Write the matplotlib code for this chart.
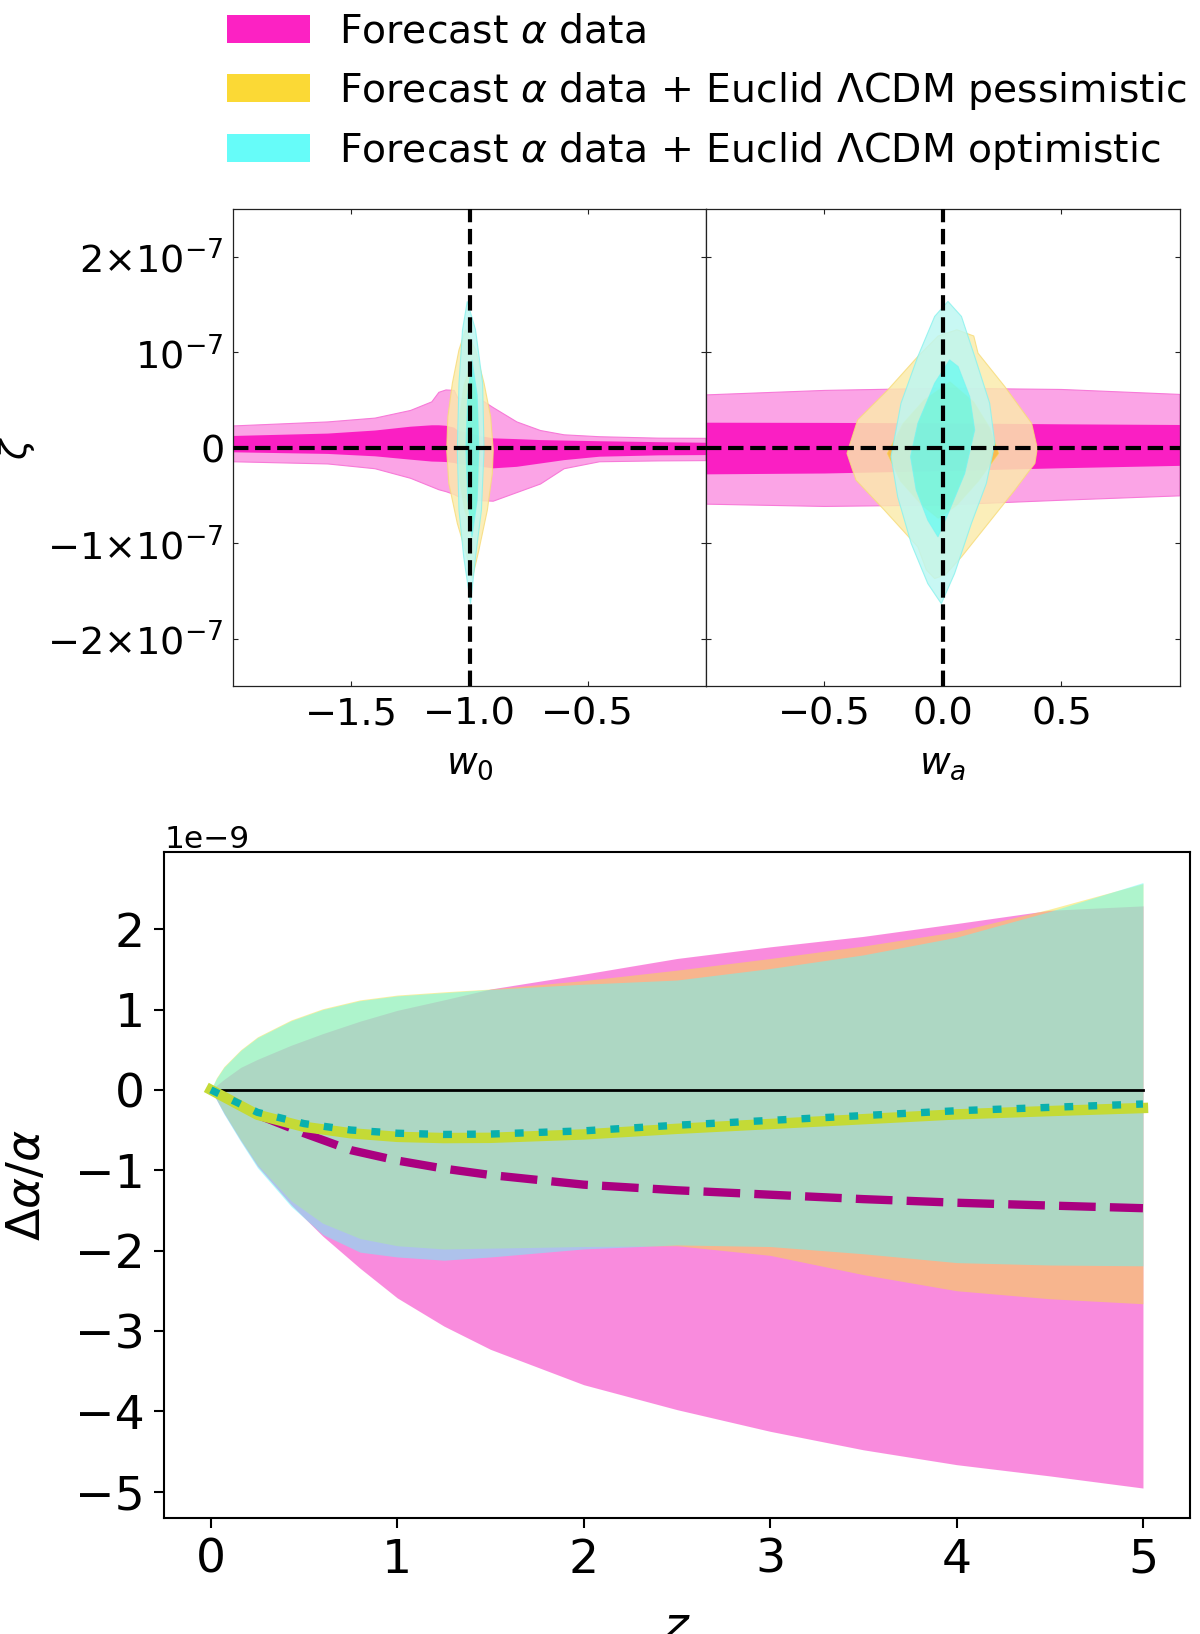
import numpy as np
import matplotlib
matplotlib.use("Agg")
from matplotlib import pyplot as plt
from matplotlib.patches import Patch, PathPatch
from matplotlib.path import Path

# ---------------- top panels: zeta in units of 1e-7 ----------------
# Forecast alpha data (pink), w0 panel, upper/lower edges on a w0 grid
W0_GRID = [-2.0, -1.6, -1.4, -1.25, -1.16, -1.13, -1.1, -1.065, -1.05, -0.95,
           -0.9, -0.8, -0.7, -0.6, -0.45, -0.2, 0.0]
PINK95_W0_UP = [0.228, 0.27, 0.31, 0.39, 0.48, 0.58, 0.605, 0.60, 0.52, 0.50,
                0.42, 0.27, 0.18, 0.135, 0.115, 0.10, 0.098]
PINK95_W0_LO = [-0.147, -0.17, -0.22, -0.32, -0.41, -0.44, -0.46, -0.49, -0.51, -0.555,
                -0.56, -0.47, -0.38, -0.22, -0.147, -0.138, -0.135]
PINK68_W0_UP = [0.123, 0.148, 0.18, 0.22, 0.235, 0.235, 0.23, 0.21, 0.18, 0.12,
                0.098, 0.09, 0.08, 0.075, 0.068, 0.058, 0.052]
PINK68_W0_LO = [-0.048, -0.065, -0.09, -0.125, -0.145, -0.147, -0.15, -0.16, -0.17, -0.20,
                -0.216, -0.20, -0.165, -0.13, -0.094, -0.08, -0.077]

# pink, wa panel
WA_GRID = [-1.0, -0.5, 0.0, 0.5, 1.0]
PINK95_WA_UP = [0.553, 0.60, 0.623, 0.61, 0.558]
PINK95_WA_LO = [-0.591, -0.615, -0.60, -0.55, -0.504]
PINK68_WA_UP = [0.262, 0.26, 0.255, 0.245, 0.238]
PINK68_WA_LO = [-0.279, -0.27, -0.245, -0.215, -0.19]

# pessimistic (yellow) contours, w0 panel
YEL95_W0_X = [-1.017, -1.045, -1.073, -1.092, -1.097, -1.088, -1.052, -1.010, -0.989,
              -0.961, -0.925, -0.904, -0.900, -0.911, -0.939, -0.975]
YEL95_W0_Y = [1.235, 1.025, 0.676, 0.325, -0.024, -0.374, -0.793, -1.144, -1.370,
              -1.074, -0.654, -0.269, -0.024, 0.325, 0.676, 1.025]
YEL68_W0_X = [-1.003, -1.025, -1.042, -1.05, -1.042, -1.022, -0.995, -0.975, -0.96, -0.955, -0.962, -0.98]
YEL68_W0_Y = [0.82, 0.65, 0.35, 0.0, -0.35, -0.65, -0.85, -0.65, -0.35, 0.0, 0.35, 0.65]
# optimistic (cyan) contours, w0 panel
CYA95_W0_X = [-1.010, -1.030, -1.045, -1.052, -1.045, -1.025, -0.996, -0.975, -0.950, -0.939, -0.945, -0.975]
CYA95_W0_Y = [1.532, 1.235, 0.676, -0.024, -0.654, -1.144, -1.633, -1.144, -0.654, -0.024, 0.676, 1.235]
CYA68_W0_X = [-0.99, -1.008, -1.016, -1.008, -0.99, -0.968, -0.961, -0.968]
CYA68_W0_Y = [0.92, 0.55, 0.0, -0.55, -0.934, -0.55, 0.0, 0.55]

# yellow, wa panel
YEL95_WA_X = [0.059, -0.02, -0.106, -0.233, -0.360, -0.405, -0.367, -0.247, -0.106, -0.07,
              -0.035, 0.01, 0.078, 0.191, 0.303, 0.388, 0.398, 0.374, 0.261, 0.148, 0.13]
YEL95_WA_Y = [1.235, 1.17, 0.955, 0.605, 0.291, -0.059, -0.339, -0.654, -1.039, -1.28,
              -1.370, -1.33, -1.144, -0.793, -0.444, -0.164, -0.006, 0.256, 0.640, 0.99, 1.17]
YEL68_WA_X = [0.03, -0.08, -0.17, -0.235, -0.18, -0.09, -0.02, 0.06, 0.15, 0.235, 0.20, 0.13]
YEL68_WA_Y = [0.69, 0.50, 0.25, -0.06, -0.35, -0.60, -0.74, -0.60, -0.35, -0.06, 0.20, 0.48]
# cyan, wa panel
CYA95_WA_X = [0.021, -0.035, -0.106, -0.177, -0.219, -0.191, -0.134, -0.064, -0.007,
              0.049, 0.120, 0.183, 0.219, 0.197, 0.134, 0.078]
CYA95_WA_Y = [1.532, 1.375, 0.955, 0.466, -0.094, -0.514, -1.003, -1.423, -1.633,
              -1.318, -0.793, -0.374, 0.046, 0.466, 0.955, 1.375]
CYA68_WA_X = [0.028, -0.035, -0.106, -0.137, -0.113, -0.064, -0.021, 0.028, 0.092, 0.134, 0.113, 0.064]
CYA68_WA_Y = [0.920, 0.676, 0.256, -0.094, -0.444, -0.759, -0.934, -0.654, -0.269, 0.186, 0.535, 0.850]

ZETA_TICKS = [-2, -1, 0, 1, 2]
ZETA_LABELS = [r"$-2{\times}10^{-7}$", r"$-1{\times}10^{-7}$", r"$0$", r"$10^{-7}$", r"$2{\times}10^{-7}$"]

# ---------------- bottom panel: delta alpha / alpha in units of 1e-9 ----------------
Z_BAND = [0, 0.03, 0.07, 0.16, 0.25, 0.43, 0.6, 0.8, 1.0, 1.25, 1.5, 2.0, 2.5, 3.0, 3.5, 4.0, 4.5, 5.0]
PINK_UP = [0, 0.055, 0.13, 0.28, 0.38, 0.555, 0.70, 0.855, 0.99, 1.12, 1.255, 1.44, 1.635, 1.78, 1.91, 2.07, 2.235, 2.29]
PINK_LO = [0, -0.12, -0.29, -0.63, -0.95, -1.43, -1.82, -2.22, -2.59, -2.94, -3.23, -3.67, -3.98, -4.25, -4.48, -4.665, -4.805, -4.956]
YEL_UP = [0, 0.15, 0.29, 0.50, 0.66, 0.87, 1.01, 1.12, 1.18, 1.22, 1.255, 1.36, 1.49, 1.635, 1.79, 1.97, 2.25, 2.567]
YEL_LO = [0, -0.11, -0.28, -0.62, -0.93, -1.38, -1.66, -1.85, -1.94, -1.98, -1.97, -1.95, -1.94, -2.06, -2.30, -2.50, -2.60, -2.662]
CYA_UP = [0, 0.14, 0.28, 0.49, 0.65, 0.86, 1.00, 1.11, 1.17, 1.21, 1.25, 1.315, 1.367, 1.51, 1.68, 1.90, 2.22, 2.58]
CYA_LO = [0, -0.125, -0.30, -0.645, -0.97, -1.45, -1.80, -2.02, -2.08, -2.12, -2.08, -1.98, -1.93, -1.95, -2.04, -2.15, -2.18, -2.19]

Z_LINE = [0, 0.25, 0.5, 0.75, 1.0, 1.25, 1.5, 2.0, 2.5, 3.0, 3.5, 4.0, 4.5, 5.0]
PINK_MEAN = [0, -0.31, -0.54, -0.75, -0.88, -0.98, -1.06, -1.18, -1.25, -1.305, -1.36, -1.405, -1.44, -1.473]
YEL_MEAN = [0, -0.31, -0.46, -0.54, -0.585, -0.60, -0.597, -0.555, -0.485, -0.425, -0.365, -0.305, -0.264, -0.226]
CYA_MEAN = [0, -0.28, -0.42, -0.50, -0.54, -0.555, -0.55, -0.51, -0.44, -0.38, -0.32, -0.26, -0.218, -0.176]
DALPHA_TICKS = [-5, -4, -3, -2, -1, 0, 1, 2]

LABELS = [r"Forecast $\alpha$ data",
          r"Forecast $\alpha$ data + Euclid $\Lambda$CDM pessimistic",
          r"Forecast $\alpha$ data + Euclid $\Lambda$CDM optimistic"]

# barvy
PINK_DARK, PINK_LIGHT = "#FA1FC3", "#FBA4E6"
YEL_DARK, YEL_LIGHT = "#FBD935", "#FBEBAB"
CYA_DARK, CYA_LIGHT = "#66FCF9", "#BDF7F2"
LEG_COLORS = ["#FC22C3", "#FBD935", "#66FCF9"]
BAND_COLORS = ["#F519BD", "#F6E040", "#64FAF9"]


def signed_area(v):
    return 0.5 * np.sum(v[:, 0] * np.roll(v[:, 1], -1) - np.roll(v[:, 0], -1) * v[:, 1])


def ring(ax, xo, yo, xi, yi, color, alpha, edge, z):
    # vnejsi kontura s dirou pro vnitrni oblast
    outer = np.column_stack([xo, yo])
    inner = np.column_stack([xi, yi])
    if signed_area(outer) * signed_area(inner) > 0:
        inner = inner[::-1]
    verts = np.concatenate([outer, outer[:1], inner, inner[:1]])
    codes = ([Path.MOVETO] + [Path.LINETO] * (len(outer) - 1) + [Path.CLOSEPOLY]
             + [Path.MOVETO] + [Path.LINETO] * (len(inner) - 1) + [Path.CLOSEPOLY])
    ax.add_patch(PathPatch(Path(verts, codes), facecolor=color, alpha=alpha,
                           edgecolor=edge, lw=0.8, zorder=z))


def band_poly(x, up, lo):
    x = np.asarray(x)
    return np.concatenate([x, x[::-1]]), np.concatenate([up, np.asarray(lo)[::-1]])


fig = plt.figure(figsize=(12, 16.34), dpi=100)

ax_w0 = fig.add_axes([0.1944, 0.5799, 0.3939, 0.2922])
ax_wa = fig.add_axes([0.5883, 0.5799, 0.3950, 0.2922])

panels = [
    (ax_w0, W0_GRID, PINK95_W0_UP, PINK95_W0_LO, PINK68_W0_UP, PINK68_W0_LO,
     (YEL95_W0_X, YEL95_W0_Y, YEL68_W0_X, YEL68_W0_Y),
     (CYA95_W0_X, CYA95_W0_Y, CYA68_W0_X, CYA68_W0_Y), -1.0, (-2.0, 0.0),
     [-1.5, -1.0, -0.5], r"$w_0$"),
    (ax_wa, WA_GRID, PINK95_WA_UP, PINK95_WA_LO, PINK68_WA_UP, PINK68_WA_LO,
     (YEL95_WA_X, YEL95_WA_Y, YEL68_WA_X, YEL68_WA_Y),
     (CYA95_WA_X, CYA95_WA_Y, CYA68_WA_X, CYA68_WA_Y), 0.0, (-1.0, 1.0),
     [-0.5, 0.0, 0.5], r"$w_a$"),
]

for (ax, grid, up95, lo95, up68, lo68, yel, cya, xfid, xlim, xticks, xlabel) in panels:
    px, py = band_poly(grid, up95, lo95)
    ax.fill(px, py, color=PINK_LIGHT, ec="#F77AD8", lw=0.8, zorder=1)
    px, py = band_poly(grid, up68, lo68)
    ax.fill(px, py, color=PINK_DARK, lw=0, zorder=1.1)
    ring(ax, yel[0], yel[1], yel[2], yel[3], YEL_LIGHT, 0.83, "#F7DC7A", 2.0)
    ax.fill(yel[2], yel[3], color=YEL_DARK, alpha=0.83, lw=0, zorder=2.1)
    ring(ax, cya[0], cya[1], cya[2], cya[3], CYA_LIGHT, 0.83, "#8AF2EE", 2.2)
    ax.fill(cya[2], cya[3], color=CYA_DARK, alpha=0.83, lw=0, zorder=2.3)

    ax.axvline(xfid, color="black", ls="--", lw=3, zorder=5)
    ax.axhline(0, color="black", ls="--", lw=3, zorder=5)

    ax.set_xlim(*xlim)
    ax.set_ylim(-2.5, 2.5)
    ax.set_xticks(xticks)
    ax.set_xticklabels([f"{t:.1f}".replace("-", "\u2212") for t in xticks])
    ax.set_yticks(ZETA_TICKS)
    ax.set_xlabel(xlabel, fontsize=27)
    ax.xaxis.set_label_coords(0.5, -0.125)
    ax.tick_params(direction="in", top=True, right=True, length=3.5, width=0.8,
                   labelsize=27.5, pad=7, color="#222222")
    for s in ax.spines.values():
        s.set_linewidth(0.9)
        s.set_color("#222222")

ax_w0.set_yticklabels(ZETA_LABELS)
ax_w0.set_ylabel(r"$\zeta$", fontsize=27)
ax_w0.yaxis.set_label_coords(-0.415, 0.5)
ax_wa.set_yticklabels([])

handles = [Patch(facecolor=c, edgecolor="none") for c in LEG_COLORS]
fig.legend(handles, LABELS, loc="upper left", bbox_to_anchor=(0.1764, 1.0017),
           borderaxespad=0, frameon=False, fontsize=28.4, labelspacing=0.47,
           handlelength=2.08, handletextpad=0.75)

# ---------------- spodni panel ----------------
ax = fig.add_axes([0.1369, 0.0708, 0.8544, 0.4076])
for up, lo, c in zip([PINK_UP, YEL_UP, CYA_UP], [PINK_LO, YEL_LO, CYA_LO], BAND_COLORS):
    ax.fill_between(Z_BAND, np.array(lo) * 1e-9, np.array(up) * 1e-9,
                    color=c, alpha=0.5, lw=0)

ax.plot([Z_LINE[0], Z_LINE[-1]], [0, 0], color="black", lw=2)
ax.plot(Z_LINE, np.array(PINK_MEAN) * 1e-9, color="#AA0080", lw=6, dashes=(4.4, 1.7))
ax.plot(Z_LINE, np.array(YEL_MEAN) * 1e-9, color="#C4DA36", lw=7.5)
ax.plot(Z_LINE, np.array(CYA_MEAN) * 1e-9, color="#0AB0AD", lw=5.3, dashes=(1.2, 2.05))

ax.set_yticks(np.array(DALPHA_TICKS) * 1e-9)
ax.set_xlabel(r"$z$", fontsize=34)
ax.xaxis.set_label_coords(0.5, -0.13)
ax.set_ylabel(r"$\Delta\alpha/\alpha$", fontsize=34)
ax.yaxis.set_label_coords(-0.1115, 0.5)
ax.tick_params(direction="out", length=7, width=1.5, labelsize=34, pad=7)
ax.yaxis.get_offset_text().set_fontsize(22.5)
for s in ax.spines.values():
    s.set_linewidth(1.5)

fig.savefig("out.png", dpi=100)
